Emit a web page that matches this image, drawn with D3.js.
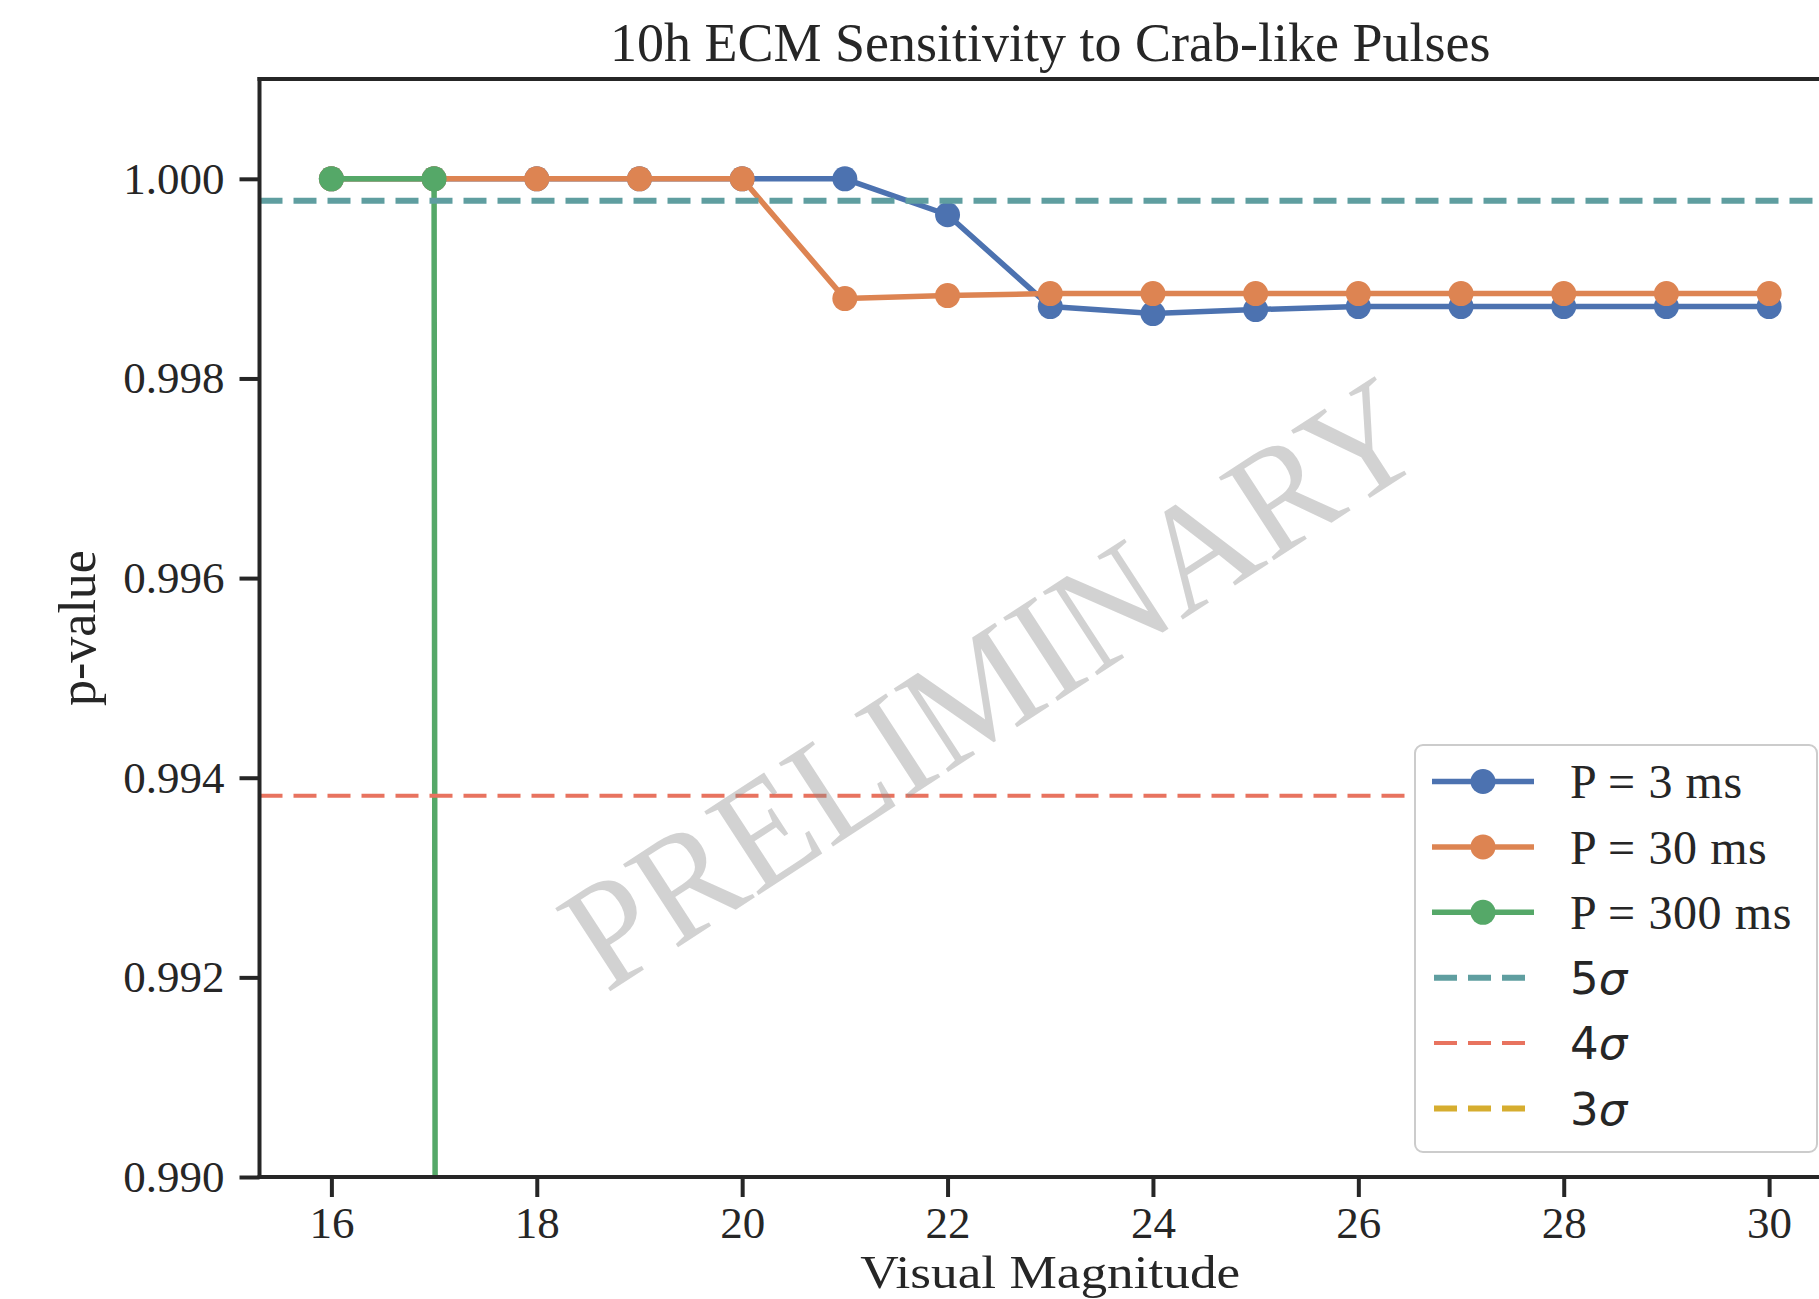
<!DOCTYPE html>
<html>
<head>
<meta charset="utf-8">
<script src="https://cdn.jsdelivr.net/npm/d3@7"></script>
<style>
  html, body { margin: 0; padding: 0; background: #ffffff; }
  svg { display: block; }
</style>
</head>
<body>
<svg id="chart" width="1819" height="1299"></svg>
<script>
// ---- data ----------------------------------------------------------------
const magnitudes   = [16, 17, 18, 19, 20, 21, 22, 23, 24, 25, 26, 27, 28, 29, 30];
const pValues3ms   = [1.0, 1.0, 1.0, 1.0, 1.0, 1.0, 0.99964, 0.99872, 0.99865, 0.99869, 0.99872, 0.99872, 0.99872, 0.99872, 0.99872];
const pValues30ms  = [1.0, 1.0, 1.0, 1.0, 1.0, 0.99880, 0.99883, 0.99885, 0.99885, 0.99885, 0.99885, 0.99885, 0.99885, 0.99885, 0.99885];
const pValues300ms = [1.0, 1.0, 0.0];
const seriesLabels = ["P = 3 ms", "P = 30 ms", "P = 300 ms"];
const seriesColors = ["#4c72b0", "#dd8452", "#55a868"];

const sigmaLevels  = ["5", "4", "3"];
const sigmaPValues = [0.99978, 0.99382, 0.88];
const sigmaColors  = ["#5f9ea0", "#e8735f", "#d6ad2f"];
const sigmaWidths  = [6, 4, 6];

const xTicks = [16, 18, 20, 22, 24, 26, 28, 30];
const yTicks = [0.990, 0.992, 0.994, 0.996, 0.998, 1.000];

const titleText = "10h ECM Sensitivity to Crab-like Pulses";
const xLabel = "Visual Magnitude";
const yLabel = "p-value";
const watermarkText = "PRELIMINARY";

// ---- layout --------------------------------------------------------------
const W = 1819, H = 1299;
const plot = { left: 259.5, top: 79, right: 1841, bottom: 1177 };
const ink = "#262626";
const serif = "'Liberation Serif', 'Times New Roman', serif";
const sans = "'DejaVu Sans', sans-serif";

const svg = d3.select("#chart");
svg.append("rect").attr("width", W).attr("height", H).attr("fill", "#ffffff");

const x = d3.scaleLinear().domain([15.3, 30.7]).range([plot.left, plot.right]);
const y = d3.scaleLinear().domain([0.990, 1.001]).range([plot.bottom, plot.top]);

svg.append("defs").append("clipPath").attr("id", "plot-clip")
  .append("rect")
  .attr("x", plot.left).attr("y", plot.top)
  .attr("width", plot.right - plot.left).attr("height", plot.bottom - plot.top);

const plotArea = svg.append("g").attr("clip-path", "url(#plot-clip)");

// ---- series: lines with circle markers -----------------------------------
const seriesValues = [pValues3ms, pValues30ms, pValues300ms];
const line = d3.line().x(d => x(d[0])).y(d => y(d[1]));

seriesValues.forEach((vals, i) => {
  const pts = vals.map((v, k) => [magnitudes[k], v]);
  const g = plotArea.append("g");
  g.append("path")
    .attr("d", line(pts))
    .attr("fill", "none")
    .attr("stroke", seriesColors[i])
    .attr("stroke-width", 5.5)
    .attr("stroke-linejoin", "round");
  g.selectAll("circle").data(pts).join("circle")
    .attr("cx", d => x(d[0]))
    .attr("cy", d => y(d[1]))
    .attr("r", 12.5)
    .attr("fill", seriesColors[i]);
});

// ---- significance thresholds ---------------------------------------------
sigmaPValues.forEach((p, i) => {
  plotArea.append("line")
    .attr("x1", plot.left).attr("x2", plot.right)
    .attr("y1", y(p)).attr("y2", y(p))
    .attr("stroke", sigmaColors[i])
    .attr("stroke-width", sigmaWidths[i])
    .attr("stroke-dasharray", "23,11");
});

// ---- axes ------------------------------------------------------------------
const xAxis = d3.axisBottom(x).tickValues(xTicks).tickFormat(d3.format("d"))
  .tickSize(20).tickPadding(9);
const yAxis = d3.axisLeft(y).tickValues(yTicks).tickFormat(d3.format(".3f"))
  .tickSize(20).tickPadding(15);

const gx = svg.append("g").attr("transform", `translate(0,${plot.bottom})`).call(xAxis);
const gy = svg.append("g").attr("transform", `translate(${plot.left},0)`).call(yAxis);
[gx, gy].forEach(g => {
  g.select(".domain").remove();
  g.selectAll(".tick line").attr("stroke", ink).attr("stroke-width", 4);
  g.selectAll(".tick text")
    .attr("fill", ink)
    .style("font-family", serif)
    .style("font-size", "45px");
});

// spines
const spines = svg.append("g").attr("stroke", ink).attr("stroke-width", 4).attr("stroke-linecap", "square");
spines.append("line").attr("x1", plot.left).attr("x2", plot.left).attr("y1", plot.top).attr("y2", plot.bottom);
spines.append("line").attr("x1", plot.left).attr("x2", plot.right).attr("y1", plot.bottom).attr("y2", plot.bottom);
spines.append("line").attr("x1", plot.left).attr("x2", plot.right).attr("y1", plot.top).attr("y2", plot.top);
spines.append("line").attr("x1", plot.right).attr("x2", plot.right).attr("y1", plot.top).attr("y2", plot.bottom);

// ---- title and axis labels -------------------------------------------------
const midX = (plot.left + plot.right) / 2;
svg.append("text")
  .attr("x", midX).attr("y", 61)
  .attr("text-anchor", "middle")
  .attr("fill", ink)
  .style("font-family", serif).style("font-size", "54px")
  .text(titleText);

svg.append("text")
  .attr("x", midX).attr("y", 1288)
  .attr("text-anchor", "middle")
  .attr("fill", ink)
  .attr("textLength", 380)
  .attr("lengthAdjust", "spacingAndGlyphs")
  .style("font-family", serif).style("font-size", "46px")
  .text(xLabel);

svg.append("text")
  .attr("transform", `translate(95,${(plot.top + plot.bottom) / 2}) rotate(-90)`)
  .attr("text-anchor", "middle")
  .attr("fill", ink)
  .style("font-family", serif).style("font-size", "52px")
  .text(yLabel);

// ---- legend ----------------------------------------------------------------
const legend = svg.append("g");
legend.append("rect")
  .attr("x", 1415).attr("y", 745)
  .attr("width", 402).attr("height", 407)
  .attr("rx", 8).attr("ry", 8)
  .attr("fill", "#ffffff")
  .attr("stroke", "#cccccc")
  .attr("stroke-width", 2);

const rowY = i => 781.5 + i * 65.4;
const lineX0 = 1432, lineX1 = 1534, textX = 1570;

seriesLabels.forEach((lab, i) => {
  const cy = rowY(i);
  legend.append("line")
    .attr("x1", lineX0).attr("x2", lineX1).attr("y1", cy).attr("y2", cy)
    .attr("stroke", seriesColors[i]).attr("stroke-width", 5.5);
  legend.append("circle")
    .attr("cx", (lineX0 + lineX1) / 2).attr("cy", cy).attr("r", 12.5)
    .attr("fill", seriesColors[i]);
  legend.append("text")
    .attr("x", textX).attr("y", cy).attr("dy", "0.35em")
    .attr("fill", ink)
    .style("font-family", serif).style("font-size", "48px")
    .style("letter-spacing", "0.6px")
    .text(lab);
});

sigmaLevels.forEach((lvl, j) => {
  const cy = rowY(seriesLabels.length + j);
  legend.append("line")
    .attr("x1", lineX0 + 2).attr("x2", lineX1 - 6).attr("y1", cy).attr("y2", cy)
    .attr("stroke", sigmaColors[j]).attr("stroke-width", sigmaWidths[j])
    .attr("stroke-dasharray", "23,11");
  const t = legend.append("text")
    .attr("x", textX).attr("y", cy).attr("dy", "0.36em")
    .attr("fill", ink)
    .style("font-family", sans).style("font-size", "45px");
  t.append("tspan").text(lvl);
  t.append("tspan").style("font-style", "italic").text("σ");
});

// ---- watermark -------------------------------------------------------------
svg.append("text")
  .attr("transform", "translate(606,994) rotate(-33)")
  .attr("text-anchor", "start")
  .attr("fill", "#8a8a8a")
  .attr("fill-opacity", 0.38)
  .attr("textLength", 985)
  .attr("lengthAdjust", "spacingAndGlyphs")
  .style("font-family", serif).style("font-size", "152px")
  .text(watermarkText);
</script>
</body>
</html>
